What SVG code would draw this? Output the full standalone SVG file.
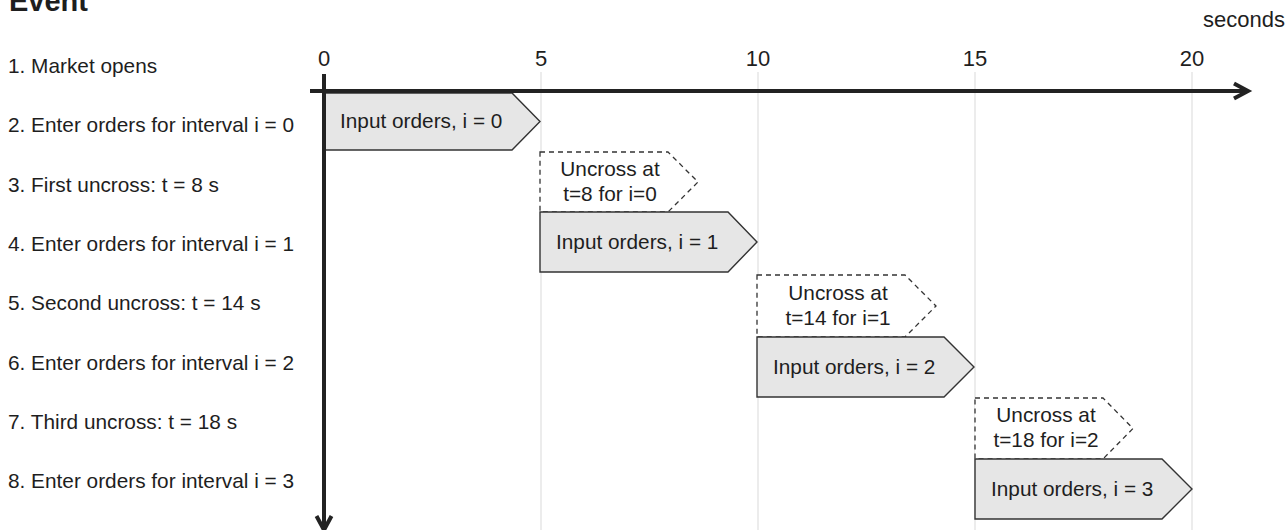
<svg xmlns="http://www.w3.org/2000/svg" width="1288" height="530" viewBox="0 0 1288 530">
  <style>
    text { font-family: "Liberation Sans", Arial, sans-serif; fill: #1e1e1e; }
    .lbl { font-size: 20.8px; }
    .tick { font-size: 22px; text-anchor: middle; }
    .title { font-size: 29px; font-weight: bold; }
    .grid { stroke: #d9d9d9; stroke-width: 1; }
    .axis { stroke: #222; stroke-width: 4; fill: none; }
    .input { fill: #e6e6e6; stroke: #333; stroke-width: 1.4; }
    .uncross { fill: #fff; stroke: #333; stroke-width: 1.3; stroke-dasharray: 5 4; }
    .mid { text-anchor: middle; }
  </style>
  <defs>
    <marker id="arrow" markerUnits="userSpaceOnUse" markerWidth="20" markerHeight="20" refX="0" refY="0" orient="auto" overflow="visible">
      <path d="M-14,-7.5 L0,0 L-14,7.5" fill="none" stroke="#222" stroke-width="4" stroke-linejoin="miter"/>
    </marker>
  </defs>

  <!-- header and time labels -->
  <text class="title" x="9" y="11">Event</text>
  <text x="1285" y="27" style="text-anchor:end;font-size:22px">seconds</text>
  <g id="ticks">
    <text class="tick" x="324" y="66">0</text>
    <text class="tick" x="541" y="66">5</text>
    <text class="tick" x="758" y="66">10</text>
    <text class="tick" x="975" y="66">15</text>
    <text class="tick" x="1192" y="66">20</text>
  </g>

  <!-- event list -->
  <g id="events">
    <text class="lbl" x="8" y="73">1. Market opens</text>
    <text class="lbl" x="8" y="132">2. Enter orders for interval i = 0</text>
    <text class="lbl" x="8" y="192">3. First uncross: t = 8 s</text>
    <text class="lbl" x="8" y="251">4. Enter orders for interval i = 1</text>
    <text class="lbl" x="8" y="310">5. Second uncross: t = 14 s</text>
    <text class="lbl" x="8" y="370">6. Enter orders for interval i = 2</text>
    <text class="lbl" x="8" y="429">7. Third uncross: t = 18 s</text>
    <text class="lbl" x="8" y="488">8. Enter orders for interval i = 3</text>
  </g>

  <!-- vertical gridlines every 5 s -->
  <g id="grid">
    <line class="grid" x1="541" y1="72" x2="541" y2="530"/>
    <line class="grid" x1="758" y1="72" x2="758" y2="530"/>
    <line class="grid" x1="975" y1="72" x2="975" y2="530"/>
    <line class="grid" x1="1192" y1="72" x2="1192" y2="530"/>
  </g>

  <!-- order entry intervals -->
  <g id="input0">
    <polygon class="input" points="324,93 512,93 540,121.5 512,150 324,150"/>
    <text class="lbl" x="340" y="128">Input orders, i = 0</text>
  </g>
  <g id="uncross0">
    <polygon class="uncross" points="540,152 668,152 698,182 668,212 540,212"/>
    <text class="lbl mid" x="610" y="176">Uncross at</text>
    <text class="lbl mid" x="610" y="201">t=8 for i=0</text>
  </g>
  <g id="input1">
    <polygon class="input" points="540,212 728,212 757,242 728,272 540,272"/>
    <text class="lbl" x="556" y="249">Input orders, i = 1</text>
  </g>
  <g id="uncross1">
    <polygon class="uncross" points="757,275 905,275 936,306 905,337 757,337"/>
    <text class="lbl mid" x="838" y="300">Uncross at</text>
    <text class="lbl mid" x="838" y="325">t=14 for i=1</text>
  </g>
  <g id="input2">
    <polygon class="input" points="757,337 944,337 974,367 944,397 757,397"/>
    <text class="lbl" x="773" y="374">Input orders, i = 2</text>
  </g>
  <g id="uncross2">
    <polygon class="uncross" points="975,398 1103,398 1133,428.5 1103,459 975,459"/>
    <text class="lbl mid" x="1046" y="422">Uncross at</text>
    <text class="lbl mid" x="1046" y="447">t=18 for i=2</text>
  </g>
  <g id="input3">
    <polygon class="input" points="975,459 1162,459 1192,489 1162,519 975,519"/>
    <text class="lbl" x="991" y="496">Input orders, i = 3</text>
  </g>

  <!-- time and event axes -->
  <g id="connectors">
    <line class="axis" x1="310" y1="91" x2="1248" y2="91" marker-end="url(#arrow)"/>
    <line class="axis" x1="324" y1="74" x2="324" y2="530" marker-end="url(#arrow)"/>
  </g>
</svg>
